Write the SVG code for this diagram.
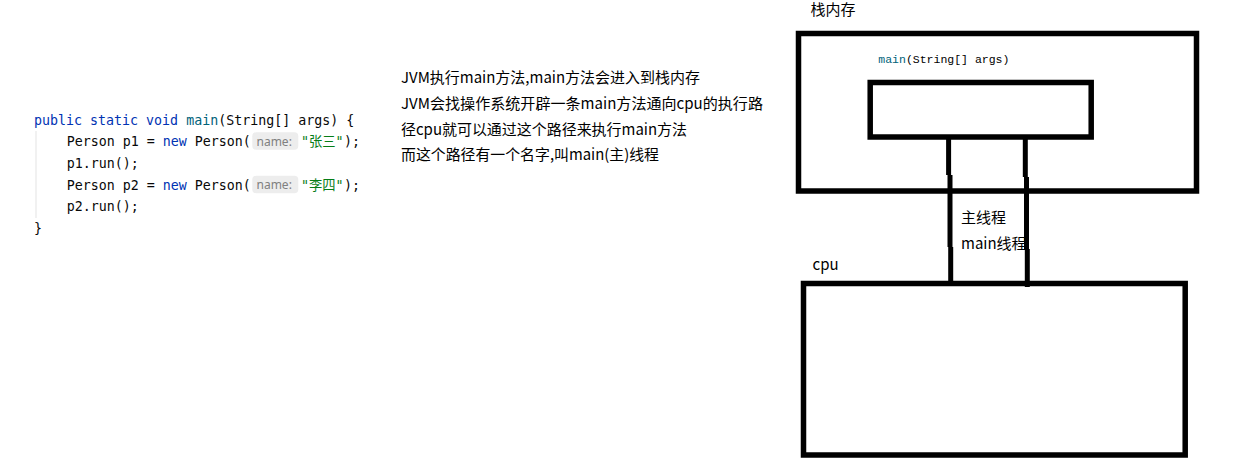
<svg xmlns="http://www.w3.org/2000/svg" width="1234" height="462" viewBox="0 0 1234 462">
<style>
.code{font-family:"DejaVu Sans Mono","Noto Sans CJK SC",monospace;font-size:13.3px;fill:#080808}
.kw{fill:#0033b3}
.fn{fill:#00627a}
.str{fill:#067d17}
.hint{font-family:"Noto Sans","Noto Sans CJK SC",sans-serif;font-size:12px;fill:#808080}
.hintbox{fill:#ededed}
.note{font-family:"Noto Sans CJK SC",sans-serif;font-size:15px;fill:#000}
.sig{font-family:"Liberation Mono","Noto Sans CJK SC",monospace;font-size:11.5px;fill:#000}
.box{fill:none;stroke:#000;stroke-width:5.5}
.wire{fill:none;stroke:#000;stroke-width:5}
</style>
<rect width="1234" height="462" fill="#fff"/>
<g id="code">
<line x1="36" y1="131" x2="36" y2="218" stroke="#e3e3e3" stroke-width="1"/>
<text class="code" x="34" y="124.5" xml:space="preserve"><tspan class="kw">public static void</tspan> <tspan class="fn">main</tspan>(String[] args) {</text>
<text class="code" x="66.7" y="146.2" xml:space="preserve">Person p1 = <tspan class="kw">new</tspan> Person(</text>
<rect class="hintbox" x="252.3" y="132.3" width="46" height="17.5" rx="4"/>
<text class="hint" x="256.5" y="145.5">name:</text>
<text class="code str" x="301" y="146.2">"张三"</text>
<text class="code" x="344" y="146.2">);</text>
<text class="code" x="66.7" y="167.9">p1.run();</text>
<text class="code" x="66.7" y="189.6" xml:space="preserve">Person p2 = <tspan class="kw">new</tspan> Person(</text>
<rect class="hintbox" x="252.3" y="175.7" width="46" height="17.5" rx="4"/>
<text class="hint" x="256.5" y="188.9">name:</text>
<text class="code str" x="301" y="189.6">"李四"</text>
<text class="code" x="344" y="189.6">);</text>
<text class="code" x="66.7" y="211.3">p2.run();</text>
<text class="code" x="34" y="233">}</text>
</g>
<g id="explanation">
<text class="note" x="401" y="83" textLength="299" lengthAdjust="spacingAndGlyphs">JVM执行main方法,main方法会进入到栈内存</text>
<text class="note" x="401" y="109" textLength="362" lengthAdjust="spacingAndGlyphs">JVM会找操作系统开辟一条main方法通向cpu的执行路</text>
<text class="note" x="401" y="134.5" textLength="286" lengthAdjust="spacingAndGlyphs">径cpu就可以通过这个路径来执行main方法</text>
<text class="note" x="401" y="160" textLength="258" lengthAdjust="spacingAndGlyphs">而这个路径有一个名字,叫main(主)线程</text>
</g>
<g id="stack">
<text class="note" x="810.5" y="15">栈内存</text>
<rect class="box" x="798.5" y="33.5" width="398" height="157.5"/>
</g>
<g id="main-frame">
<text class="sig" x="878.3" y="62.5"><tspan class="fn">main</tspan>(String[] args)</text>
<rect class="box" x="870.2" y="82.5" width="221" height="54.5"/>
</g>
<g id="cpu">
<text class="note" x="812.5" y="270">cpu</text>
<rect class="box" x="803.5" y="283.5" width="381.7" height="171.5"/>
</g>
<g id="connectors">
<line class="wire" x1="948.6" y1="139" x2="948.6" y2="175"/>
<line class="wire" x1="950" y1="175" x2="950" y2="247"/>
<line class="wire" x1="950.7" y1="247" x2="950.7" y2="282"/>
<line class="wire" x1="1025.3" y1="139" x2="1025.3" y2="177"/>
<line class="wire" x1="1026.5" y1="177" x2="1026.5" y2="249"/>
<line class="wire" x1="1027.3" y1="249" x2="1027.3" y2="287"/>
</g>
<g id="thread-label">
<text class="note" x="961" y="223">主线程</text>
<text class="note" x="961" y="249">main线程</text>
</g>
</svg>
